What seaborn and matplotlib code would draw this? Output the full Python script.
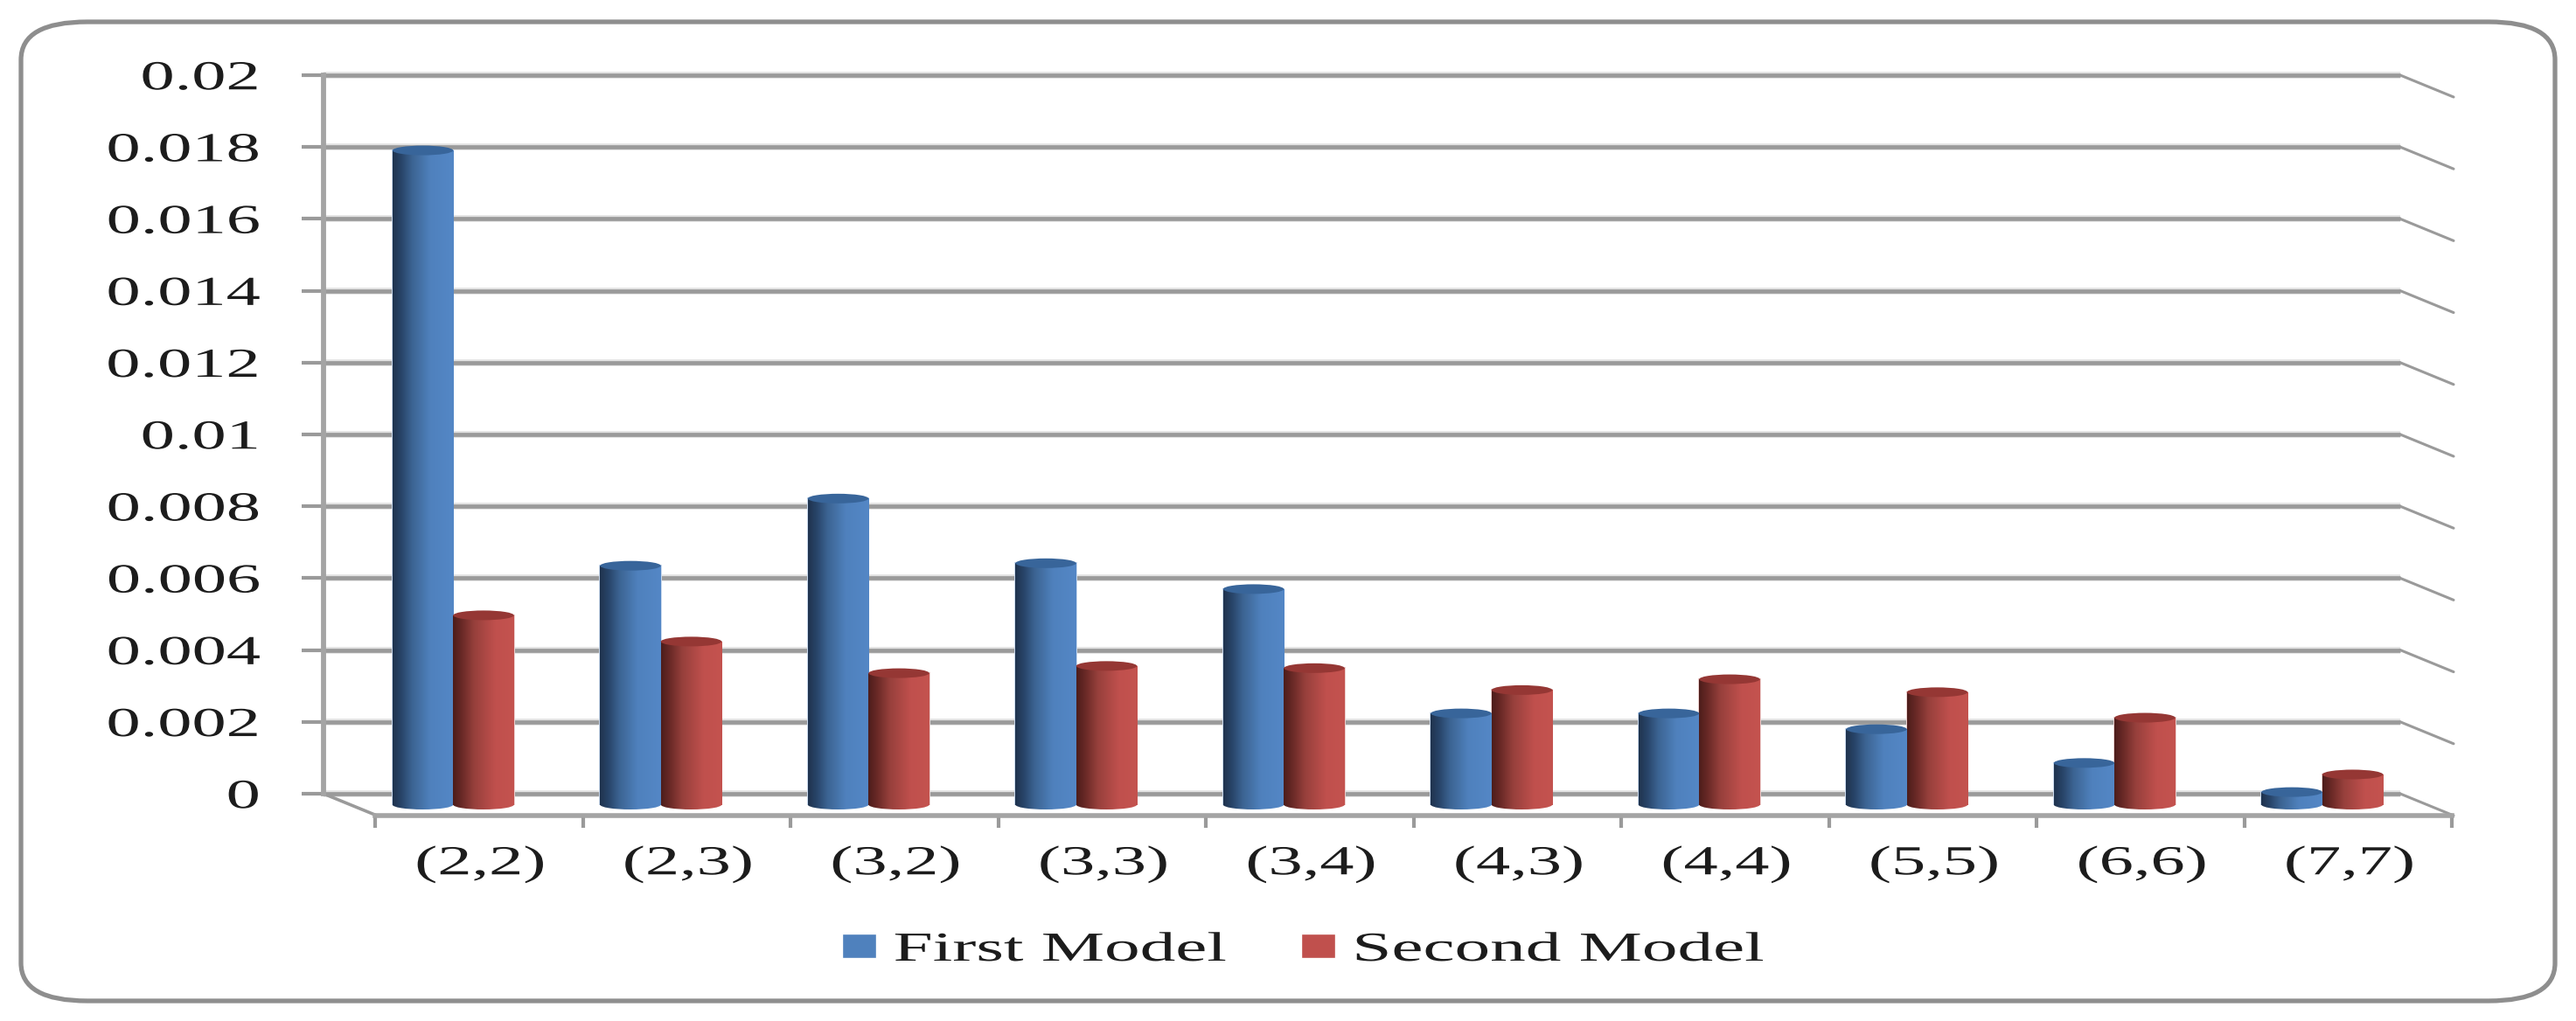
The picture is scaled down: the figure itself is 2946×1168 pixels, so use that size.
import matplotlib
matplotlib.use("Agg")
import matplotlib.pyplot as plt
import numpy as np
import pandas as pd
import seaborn as sns
from matplotlib.colors import LinearSegmentedColormap
from matplotlib.patches import Ellipse, FancyBboxPatch
from matplotlib.patheffects import AbstractPathEffect, withStroke
from matplotlib.transforms import Affine2D, IdentityTransform

categories = ["(2,2)", "(2,3)", "(3,2)", "(3,3)", "(3,4)", "(4,3)", "(4,4)", "(5,5)", "(6,6)", "(7,7)"]
first_model = [0.01821, 0.00665, 0.00852, 0.00672, 0.00600, 0.00254, 0.00254, 0.00210, 0.00116, 0.00035]
second_model = [0.00527, 0.00454, 0.00366, 0.00386, 0.00380, 0.00319, 0.00349, 0.00313, 0.00242, 0.00084]
series_names = ["First Model", "Second Model"]
y_ticks = [0, 0.002, 0.004, 0.006, 0.008, 0.01, 0.012, 0.014, 0.016, 0.018, 0.02]
y_tick_labels = ["0", "0.002", "0.004", "0.006", "0.008", "0.01", "0.012", "0.014", "0.016", "0.018", "0.02"]

W, H = 2946, 1168
GRID = "#9a9a9a"
HALO = "#e2e2e2"
TEXT = "#1c1c1c"
FONT_PT = 34
WIDEN = 1.66


# the source picture is stretched sideways, so the text is too
class Widen(AbstractPathEffect):
    def __init__(self, k, x0=None):
        self.k = k
        self.x0 = x0

    def draw_path(self, renderer, gc, tpath, affine, rgbFace=None):
        m = affine.get_matrix().copy()
        x0 = m[0, 2] if self.x0 is None else self.x0
        m[0, 0] *= self.k
        m[0, 1] *= self.k
        m[0, 2] = x0 + self.k * (m[0, 2] - x0)
        renderer.draw_path(gc, tpath, Affine2D(m), rgbFace)


def px_axes(left, right, top, bottom, zorder):
    new_ax = fig.add_axes([left / W, 1 - bottom / H, (right - left) / W, (bottom - top) / H], zorder=zorder)
    new_ax.patch.set_visible(False)
    new_ax.set_xlim(-0.5, 9.5)
    new_ax.set_ylim(0, 0.02)
    return new_ax


sns.set_theme(style="white")
plt.rcParams["font.family"] = ["Liberation Serif", "DejaVu Serif"]

df = pd.DataFrame({
    "pair": categories * 2,
    "model": [series_names[0]] * 10 + [series_names[1]] * 10,
    "value": first_model + second_model,
})

fig = plt.figure(figsize=(W / 100, H / 100), dpi=100, facecolor="white")

# outer rounded frame
fig.add_artist(FancyBboxPatch((24, H - 1145), 2898, 1120, boxstyle="round,pad=0,rounding_size=76",
                              mutation_aspect=0.57, transform=IdentityTransform(),
                              facecolor="none", edgecolor="#8e8e8e", linewidth=3.8))

# back wall: grid and y axis
wall = px_axes(370, 2745, 86, 908, 1)
for name, spine in wall.spines.items():
    spine.set_visible(name == "left")
wall.spines["left"].set_color("#a4a4a4")
wall.spines["left"].set_linewidth(4.2)
wall.set_yticks(y_ticks, y_tick_labels)
wall.set_xticks([])
wall.tick_params(axis="y", length=18, width=3, color=GRID, pad=34, labelsize=FONT_PT, labelcolor=TEXT, left=True)
for lab in wall.get_yticklabels():
    lab.set_path_effects([Widen(WIDEN, 298)])
halo = [withStroke(linewidth=5.6, foreground=HALO)]
dx = 61 / 237.5
dy = 25 / 822 * 0.02
for v in y_ticks:
    wall.plot([-0.5, 9.5], [v, v], color=GRID, lw=3.4, clip_on=False, solid_capstyle="butt", path_effects=halo, zorder=1)
    wall.plot([9.5, 9.5 + dx], [v, v - dy], color=GRID, lw=2.2, clip_on=False, zorder=1)
wall.plot([-0.5, -0.5 + dx], [0, -dy], color=GRID, lw=2.6, clip_on=False, zorder=1)

# floor edge: x axis
floor = px_axes(429, 2804, 86, 933, 2)
for name, spine in floor.spines.items():
    spine.set_visible(name == "bottom")
floor.spines["bottom"].set_color("#a4a4a4")
floor.spines["bottom"].set_linewidth(4)
floor.set_yticks([])
floor.set_xticks(np.arange(10), categories)
floor.set_xticks(np.arange(-0.5, 10), minor=True)
floor.tick_params(axis="x", which="major", length=0, pad=25, labelsize=FONT_PT, labelcolor=TEXT)
floor.tick_params(axis="x", which="minor", length=10, width=3, color="#9a9a9a", bottom=True)
for i, lab in enumerate(floor.get_xticklabels()):
    lab.set_path_effects([Widen(WIDEN, floor.transData.transform((i, 0))[0] - 3)])

# bars sit halfway between wall and floor edge
ax = px_axes(399.5, 2774.5, 98.5, 920.5, 3)
sns.barplot(data=df, x="pair", y="value", hue="model", order=categories, hue_order=series_names,
            palette=["#4F81BD", "#C0504D"], saturation=1, width=0.585, gap=0, ax=ax)
ax.set(xlabel="", ylabel="", xticks=[], yticks=[])
ax.set_xlim(-0.5, 9.5)
ax.set_ylim(0, 0.02)
sns.despine(ax=ax, left=True, bottom=True)

blue_cmap = LinearSegmentedColormap.from_list("b", [(0, "#1f334e"), (0.15, "#29466b"), (0.32, "#3c6493"),
                                                    (0.62, "#4f81bd"), (1, "#5487c6")])
red_cmap = LinearSegmentedColormap.from_list("r", [(0, "#4d1d1b"), (0.15, "#6b2a27"), (0.35, "#97403c"),
                                                   (0.7, "#c0504d"), (1, "#c4534f")])
ramp = np.linspace(0, 1, 128).reshape(1, -1)
ry = 5.5 / 822 * 0.02
styles = [(blue_cmap, "#38659a", "#c9d9ee"), (red_cmap, "#953734", "#eccfce")]
for container, (cmap, top_color, edge) in zip(ax.containers, styles):
    for bar in container:
        x0, w, h = bar.get_x(), bar.get_width(), bar.get_height()
        bar.set_edgecolor(edge)
        bar.set_linewidth(1.4)
        im = ax.imshow(ramp, cmap=cmap, extent=(x0, x0 + w, 0, h), aspect="auto", zorder=3)
        im.set_clip_path(bar)
        base = Ellipse((x0 + w / 2, 0), w, 2 * ry, facecolor="none", edgecolor="none", clip_on=False)
        ax.add_patch(base)
        im2 = ax.imshow(ramp, cmap=cmap, extent=(x0, x0 + w, -ry, ry), aspect="auto", zorder=3)
        im2.set_clip_box(fig.bbox)
        im2.set_clip_path(base)
        ax.add_patch(Ellipse((x0 + w / 2, h), w, 2 * ry, facecolor=top_color, edgecolor="none",
                             zorder=4, clip_on=False))
ax.set_xlim(-0.5, 9.5)
ax.set_ylim(0, 0.02)
ax.set_aspect("auto")

sns.move_legend(ax, "lower left", bbox_to_anchor=(963, H - 1109), bbox_transform=IdentityTransform(), ncol=2,
                title=None, frameon=False, fontsize=FONT_PT, borderpad=0, borderaxespad=0,
                handlelength=0.83, handleheight=0.52, handletextpad=0.41, columnspacing=5.17)
for t in ax.get_legend().get_texts():
    t.set_color(TEXT)
    t.set_path_effects([Widen(1.72)])

fig.savefig("out.png", dpi=100)
